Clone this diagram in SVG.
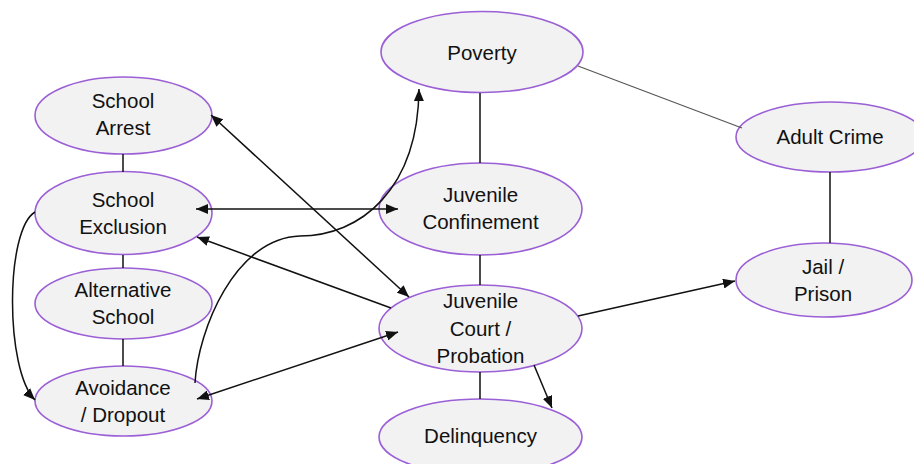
<svg xmlns="http://www.w3.org/2000/svg" width="914" height="464" viewBox="0 0 914 464">
<style>
.n ellipse{fill:#f2f2f2;stroke:#9b5fd6;stroke-width:1.6}
.n text{font-family:"Liberation Sans",Arial,sans-serif;font-size:20.5px;fill:#111;text-anchor:middle}
.c path,.c line{fill:none;stroke:#111;stroke-width:1.5}
.c .thin{stroke:#555;stroke-width:1.1}
</style>
<defs>
<marker id="ah" viewBox="0 0 12 10" refX="12" refY="5" markerWidth="12" markerHeight="10" markerUnits="userSpaceOnUse" orient="auto-start-reverse">
<path d="M0,0 L12,5 L0,10 Z" fill="#111"/>
</marker>
</defs>
<rect width="914" height="464" fill="#fff"/>
<g class="n" id="school-arrest"><ellipse cx="123.5" cy="115.5" rx="88.5" ry="38.5"/><text x="123" y="108">School</text><text x="123" y="135">Arrest</text></g>
<g class="n" id="school-exclusion"><ellipse cx="123.5" cy="213" rx="88.5" ry="41.5"/><text x="123" y="207">School</text><text x="123" y="234">Exclusion</text></g>
<g class="n" id="alternative-school"><ellipse cx="123.5" cy="303.5" rx="88.5" ry="35.5"/><text x="123" y="297">Alternative</text><text x="123" y="324">School</text></g>
<g class="n" id="avoidance-dropout"><ellipse cx="123.5" cy="401" rx="88.5" ry="35"/><text x="123" y="395">Avoidance</text><text x="123" y="422">/ Dropout</text></g>
<g class="n" id="poverty"><ellipse cx="482" cy="52" rx="101" ry="40.5"/><text x="482" y="60">Poverty</text></g>
<g class="n" id="juvenile-confinement"><ellipse cx="480.5" cy="209" rx="101.5" ry="46"/><text x="480.5" y="202">Juvenile</text><text x="480.5" y="229">Confinement</text></g>
<g class="n" id="juvenile-court"><ellipse cx="480.5" cy="328.5" rx="101.5" ry="43.5"/><text x="480.5" y="308">Juvenile</text><text x="480.5" y="336">Court /</text><text x="480.5" y="363">Probation</text></g>
<g class="n" id="delinquency"><ellipse cx="480.5" cy="437" rx="101.5" ry="38"/><text x="480.5" y="443">Delinquency</text></g>
<g class="n" id="adult-crime"><ellipse cx="830" cy="137" rx="94" ry="35"/><text x="830" y="144">Adult Crime</text></g>
<g class="n" id="jail-prison"><ellipse cx="824" cy="280" rx="88" ry="37"/><text x="823" y="274">Jail /</text><text x="823" y="301">Prison</text></g>
<g class="c" id="connectors">
<line x1="123" y1="154" x2="123" y2="172"/>
<line x1="123" y1="255" x2="123" y2="268"/>
<line x1="123" y1="339" x2="123" y2="366"/>
<line x1="480" y1="93" x2="480" y2="163"/>
<line x1="480" y1="255" x2="480" y2="285"/>
<line x1="480" y1="372" x2="480" y2="399"/>
<line x1="830" y1="172" x2="830" y2="243"/>
<line class="thin" x1="578" y1="66" x2="742" y2="128"/>
<path d="M211,115 L409,297" marker-start="url(#ah)" marker-end="url(#ah)"/>
<path d="M196,209 L398,209" marker-start="url(#ah)" marker-end="url(#ah)"/>
<path d="M391,308 L197,237" marker-end="url(#ah)"/>
<path d="M197,399 L398,332" marker-start="url(#ah)" marker-end="url(#ah)"/>
<path d="M195,383 C198,330 235,238 300,236 C360,236 418,190 419,89" marker-end="url(#ah)"/>
<path d="M35,212 C5,230 5,370 35,400" marker-end="url(#ah)"/>
<path d="M578,316 L735,281" marker-end="url(#ah)"/>
<path d="M534,365 L552,408" marker-end="url(#ah)"/>
</g>
</svg>
